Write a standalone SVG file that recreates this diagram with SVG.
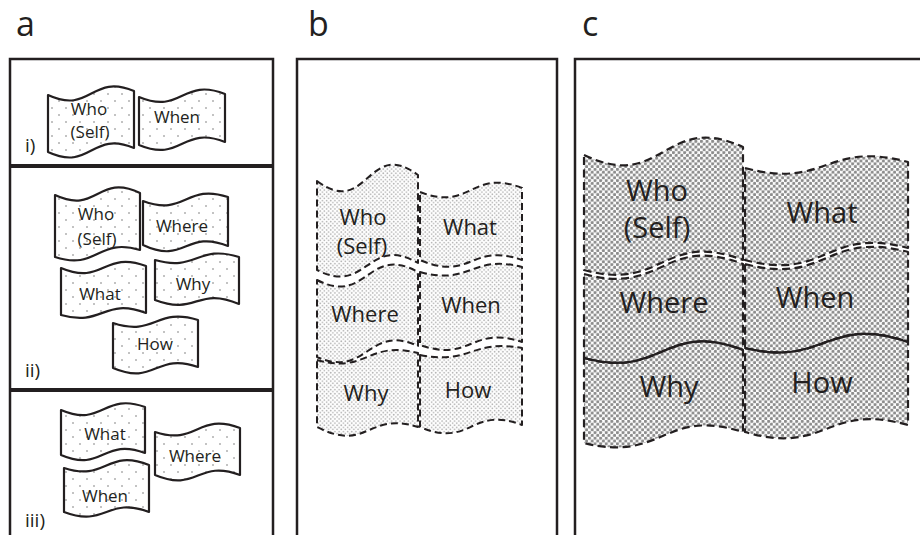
<svg xmlns="http://www.w3.org/2000/svg" width="920" height="535" viewBox="0 0 920 535">
<defs>
<pattern id="dotsA" patternUnits="userSpaceOnUse" width="14" height="14">
<rect width="14" height="14" fill="#fff"/>
<circle cx="3" cy="3" r="0.8" fill="#777"/>
<circle cx="10" cy="10" r="0.8" fill="#777"/>
</pattern>
<pattern id="dotsB" patternUnits="userSpaceOnUse" width="4.2" height="4.2">
<rect width="4.2" height="4.2" fill="#fff"/>
<circle cx="1.05" cy="1.05" r="0.85" fill="#b0b0b0"/>
<circle cx="3.15" cy="3.15" r="0.85" fill="#b0b0b0"/>
</pattern>
<pattern id="dotsC" patternUnits="userSpaceOnUse" width="5.6" height="5.6">
<rect width="5.6" height="5.6" fill="#fff"/>
<circle cx="1.4" cy="1.4" r="1.6" fill="#8c8c8c"/>
<circle cx="4.2" cy="4.2" r="1.6" fill="#8c8c8c"/>
</pattern>
</defs>
<style>
.frame{fill:none;stroke:#231f20;stroke-width:2.5}
.div{stroke:#231f20;stroke-width:4}
.fa{fill:url(#dotsA);stroke:#231f20;stroke-width:2.2;stroke-linejoin:round}
.fb{fill:url(#dotsB);stroke:#231f20;stroke-width:2;stroke-dasharray:7 4;stroke-linejoin:round}
.fc{fill:url(#dotsC);stroke:#231f20;stroke-width:2.2;stroke-dasharray:8 4.5;stroke-linejoin:round}
.solid{fill:none;stroke:#231f20;stroke-width:2.2}
text{font-family:"Open Sans","Noto Sans","Liberation Sans",sans-serif;fill:#231f20}
.ta{font-size:17px;text-anchor:middle}
.tb{font-size:22px;text-anchor:middle}
.tc{font-size:29px;text-anchor:middle}
.lab{font-size:34px}
.sub{font-size:19px}
</style>
<rect width="920" height="535" fill="#fff"/>

<g id="panel-a">
<text class="lab" x="16" y="36">a</text>
<rect class="frame" x="10" y="59" width="263" height="490"/>
<line class="div" x1="10" y1="166" x2="273" y2="166"/>
<line class="div" x1="10" y1="390" x2="273" y2="390"/>
<text class="sub" x="25" y="152">i)</text>
<text class="sub" x="25" y="377">ii)</text>
<text class="sub" x="25" y="527">iii)</text>
</g>

<g id="a-i-who">
<path class="fa" d="M48,95 C91,115 91,73 134,91 L134,148 C91,130 91,172 48,152 Z"/>
<text class="ta" x="89" y="115">Who</text>
<text class="ta" x="90" y="138">(Self)</text>
</g>
<g id="a-i-when">
<path class="fa" d="M139,97 C182,115 182,77 225,94 L225,142 C182,125 182,163 139,145 Z"/>
<text class="ta" x="177" y="123">When</text>
</g>

<g id="a-ii-who">
<path class="fa" d="M55,195 C97.5,215 97.5,173 140,193 L140,250 C97.5,237 97.5,271 55,257 Z"/>
<text class="ta" x="96" y="220">Who</text>
<text class="ta" x="97" y="245">(Self)</text>
</g>
<g id="a-ii-where">
<path class="fa" d="M143,201 C185.5,217 185.5,183 228,197 L228,246 C185.5,229 185.5,265 143,245 Z"/>
<text class="ta" x="182" y="232">Where</text>
</g>
<g id="a-ii-what">
<path class="fa" d="M61,268 C103.5,286 103.5,250 146,266 L146,313 C103.5,297 103.5,327 61,315 Z"/>
<text class="ta" x="100" y="300">What</text>
</g>
<g id="a-ii-why">
<path class="fa" d="M155,260 C197,272 197,244 239,257 L239,304 C197,286 197,316 155,300 Z"/>
<text class="ta" x="193" y="290">Why</text>
</g>
<g id="a-ii-how">
<path class="fa" d="M113,323 C155.5,337 155.5,307 198,320 L198,367 C155.5,352 155.5,386 113,368 Z"/>
<text class="ta" x="155" y="350">How</text>
</g>

<g id="a-iii-what">
<path class="fa" d="M61,410 C103,428 103,392 145,407 L145,453 C103,437 103,473 61,455 Z"/>
<text class="ta" x="105" y="440">What</text>
</g>
<g id="a-iii-where">
<path class="fa" d="M155,432 C197.5,446 197.5,412 240,428 L240,475 C197.5,459 197.5,493 155,475 Z"/>
<text class="ta" x="195" y="462">Where</text>
</g>
<g id="a-iii-when">
<path class="fa" d="M64,468 C106.5,482 106.5,448 149,465 L149,512 C106.5,496 106.5,528 64,512 Z"/>
<text class="ta" x="105" y="502">When</text>
</g>

<g id="panel-b">
<text class="lab" x="308" y="36">b</text>
<rect class="frame" x="297" y="59" width="260" height="490"/>
</g>
<g id="b-who">
<path class="fb" d="M317,181 C367.5,219 367.5,137 418,175 L418,263 C367.5,234 367.5,296 317,270 Z"/>
<text class="tb" x="363" y="225">Who</text>
<text class="tb" x="362" y="254">(Self)</text>
</g>
<g id="b-where">
<path class="fb" d="M317,280 C367.5,306 367.5,244 418,272 L418,346 C367.5,323 367.5,379 317,357 Z"/>
<text class="tb" x="365" y="322">Where</text>
</g>
<g id="b-why">
<path class="fb" d="M317,360 C367.5,374 367.5,340 418,353 L418,427 C367.5,411 367.5,453 317,427 Z"/>
<text class="tb" x="366" y="401">Why</text>
</g>
<g id="b-what">
<path class="fb" d="M420,192 C471,212 471,168 522,188 L522,260 C471,242 471,282 420,260 Z"/>
<text class="tb" x="470" y="235">What</text>
</g>
<g id="b-when">
<path class="fb" d="M420,272 C471,286 471,254 522,267 L522,342 C471,325 471,363 420,345 Z"/>
<text class="tb" x="471" y="313">When</text>
</g>
<g id="b-how">
<path class="fb" d="M420,355 C471,365 471,339 522,348 L522,425 C471,405 471,449 420,427 Z"/>
<text class="tb" x="468" y="398">How</text>
</g>

<g id="panel-c">
<text class="lab" x="582" y="36">c</text>
<rect class="frame" x="575" y="59" width="360" height="490"/>
</g>
<g id="c-who">
<path class="fc" d="M584,155 C663.5,193 663.5,111 743,147 L743,260 C663.5,230 663.5,292 584,270 Z"/>
<text class="tc" x="657" y="201">Who</text>
<text class="tc" x="657" y="238">(Self)</text>
</g>
<g id="c-where">
<path class="fc" d="M584,274 C663.5,296 663.5,234 743,264 L743,350 C663.5,320 663.5,380 584,358 Z"/>
<text class="tc" x="664" y="313">Where</text>
</g>
<g id="c-why">
<path class="fc" d="M584,358 C663.5,380 663.5,320 743,350 L743,432 C663.5,407 663.5,463 584,443 Z"/>
<path class="solid" d="M584,358 C663.5,380 663.5,320 743,350"/>
<text class="tc" x="669" y="397">Why</text>
</g>
<g id="c-what">
<path class="fc" d="M745,168 C826.5,190 826.5,140 908,162 L908,248 C826.5,226 826.5,282 745,260 Z"/>
<text class="tc" x="822" y="223">What</text>
</g>
<g id="c-when">
<path class="fc" d="M745,264 C826.5,286 826.5,230 908,252 L908,342 C826.5,314 826.5,368 745,348 Z"/>
<text class="tc" x="815" y="308">When</text>
</g>
<g id="c-how">
<path class="fc" d="M745,348 C826.5,368 826.5,314 908,342 L908,425 C826.5,402 826.5,456 745,432 Z"/>
<path class="solid" d="M745,348 C826.5,368 826.5,314 908,342"/>
<text class="tc" x="822" y="393">How</text>
</g>
</svg>
